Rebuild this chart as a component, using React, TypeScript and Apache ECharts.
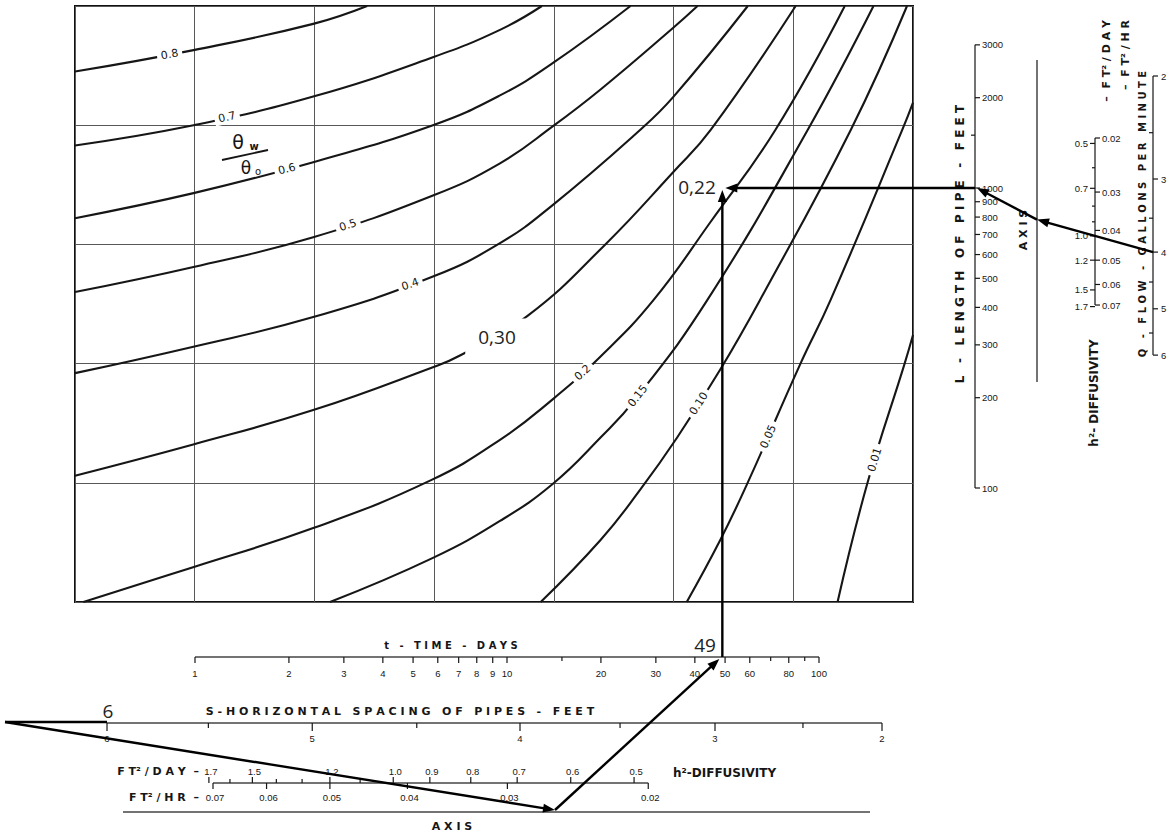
import { useEffect, useRef } from 'react';
import * as echarts from 'echarts';

// ---------- θw/θo contour lines, [x, y] in grid-cell units (x 0–7 across, y 0–5 upward) ----------
const C080 = [[0, 4.45], [0.99, 4.63], [1.99, 4.85], [2.44, 5.0]];
const C070 = [[0, 3.83], [0.99, 4.0], [1.99, 4.24], [2.99, 4.57], [3.55, 4.8], [3.9, 5.0]];
const C060 = [[0, 3.22], [0.99, 3.43], [1.99, 3.69], [2.99, 4.0], [3.55, 4.25], [3.99, 4.52], [4.64, 5.0]];
const C050 = [[0, 2.6], [0.99, 2.81], [1.99, 3.06], [2.99, 3.41], [3.55, 3.68], [3.99, 3.99], [4.39, 4.3], [5.0, 4.82], [5.2, 5.0]];
const C040 = [[0, 1.92], [0.98, 2.14], [1.99, 2.39], [2.99, 2.73], [3.55, 3.01], [3.99, 3.33], [4.72, 3.96], [5.0, 4.24], [5.62, 5.0]];
const C030 = [[0, 1.06], [0.98, 1.32], [1.99, 1.61], [2.99, 1.97], [3.22, 2.07], [3.78, 2.4], [4.43, 3.0], [5.0, 3.61], [5.31, 3.96], [6.02, 5.0]];
const C020 = [[0.07, 0], [0.98, 0.29], [1.99, 0.62], [2.97, 1.02], [3.55, 1.36], [3.99, 1.7], [4.39, 2.06], [4.83, 2.53], [5.31, 3.19], [5.85, 3.96], [6.43, 5.0]];
const C015 = [[2.13, 0], [2.99, 0.37], [3.55, 0.68], [3.99, 0.99], [4.39, 1.38], [4.68, 1.7], [5.28, 2.53], [6.12, 3.96], [6.67, 5.0]];
const C010 = [[3.89, 0], [4.39, 0.52], [4.72, 0.94], [5.03, 1.38], [5.39, 1.95], [5.72, 2.53], [6.48, 3.96], [6.95, 5.0]];
const C005 = [[5.11, 0], [5.39, 0.52], [5.61, 0.98], [6.06, 2.0], [6.31, 2.53], [6.91, 3.96], [7.0, 4.19]];
const C001 = [[6.37, 0], [6.62, 1.0], [6.93, 2.0], [7.0, 2.24]];

const CONTOUR_POINTS = [C080, C070, C060, C050, C040, C030, C020, C015, C010, C005, C001];
// inline labels: text and the x (grid units) where each one sits on its contour
const CONTOUR_TEXT = ['0.8', '0.7', '0.6', '0.5', '0.4', '', '0.2', '0.15', '0.10', '0.05', '0.01'];
const CONTOUR_LABEL_X = [0.79, 1.27, 1.77, 2.28, 2.8, 0, 4.24, 4.7, 5.21, 5.79, 6.68];

// ---------- nomograph scales ----------
const T_TICKS = [1, 2, 3, 4, 5, 6, 7, 8, 9, 10, 20, 30, 40, 50, 60, 80, 100];
const T_MINOR = [15, 70, 90];
const S_TICKS = [6, 5, 4, 3, 2];
const S_HALF = [5.5, 4.5, 3.5, 2.5];
const H_DAY_BOTTOM = [1.7, 1.5, 1.2, 1.0, 0.9, 0.8, 0.7, 0.6, 0.5];
const H_DAY_BOTTOM_MINOR = [1.6, 1.4, 1.3, 1.1];
const H_HR_BOTTOM = [0.07, 0.06, 0.05, 0.04, 0.03, 0.02];
const L_TICKS = [3000, 2000, 1000, 900, 800, 700, 600, 500, 400, 300, 200, 100];
const L_MINOR = [1500];
const H_DAY_RIGHT = [0.5, 0.7, 1.0, 1.2, 1.5, 1.7];
const H_DAY_RIGHT_MINOR = [0.6, 0.8, 0.9];
const H_HR_RIGHT = [0.02, 0.03, 0.04, 0.05, 0.06, 0.07];
const Q_TICKS = [2, 3, 4, 5, 6];
const Q_MINOR = [2.5, 3.5, 4.5, 5.5];

// worked example drawn on top of the chart
const EX_S = 6;
const EX_H2_DAY = 1.0;
const EX_T = 49;
const EX_L = 1000;
const EX_Q = 4;
const EX_RESULT = '0,22';
const EX_NOTE = '0,30';

// ---------- layout (page pixels) ----------
const T_Y = 657;
const S_Y = 723;
const HB_Y = 783;
const AXB_Y = 812;
const L_X = 975;
const AXR_X = 1037;
const HR_X = 1095;
const Q_X = 1153;

const tX = (t: number) => 195 + 312 * Math.log10(t);
const sX = (s: number) => 882 - 167 * (s - 2) - 14 * (s - 2) * (s - 3) + 2.542 * (s - 2) * (s - 3) * (s - 4);
const hbX = (hr: number) => 213 + 800 * Math.log10(0.07 / hr);
const lY = (l: number) => 488 - 300 * Math.log10(l / 100);
const hrY = (hr: number) => 138 + 307 * Math.log10(hr / 0.02);
const qY = (q: number) => 76 + 585 * Math.log10(q / 2);

const INK = '#161616';
const TICK_FONT = '9.5px "Liberation Sans", Arial, sans-serif';
const bold = (n: number) => `bold ${n}px "DejaVu Sans", sans-serif`;
const NOTE_FONT = '19px "Open Sans", sans-serif';
const spaced = (s: string) => s.split(' ').map((w) => w.split('').join(' ')).join('   ');

const interpY = (pts: number[][], x: number) => {
  for (let i = 1; i < pts.length; i++) {
    if (x <= pts[i][0]) {
      const [x0, y0] = pts[i - 1];
      const [x1, y1] = pts[i];
      return y0 + ((y1 - y0) * (x - x0)) / (x1 - x0);
    }
  }
  return pts[pts.length - 1][1];
};

function buildOverlay() {
  const P: any[] = [];
  const seg = (a: number[], b: number[], w = 1.2, c = INK) => P.push({ k: 'seg', a, b, w, c });
  const arrow = (a: number[], b: number[]) => P.push({ k: 'arrow', a, b });
  const txt = (p: number[], text: string, font: string, o: any = {}) => P.push({ k: 'txt', p, text, font, ...o });
  const up = Math.PI / 2;

  // t – time – days
  seg([tX(1), T_Y], [tX(100), T_Y], 1.5, '#444');
  T_TICKS.forEach((t) => {
    seg([tX(t), T_Y], [tX(t), T_Y + 6]);
    txt([tX(t), T_Y + 16], String(t), TICK_FONT);
  });
  T_MINOR.forEach((t) => seg([tX(t), T_Y], [tX(t), T_Y + 4]));
  txt([451, T_Y - 12], spaced('t - TIME - DAYS'), bold(10));

  // S – horizontal spacing of pipes
  seg([sX(6), S_Y], [sX(2), S_Y], 1.5, '#444');
  S_TICKS.forEach((s) => {
    seg([sX(s), S_Y], [sX(s), S_Y + 8]);
    txt([sX(s), S_Y + 15], String(s), TICK_FONT);
  });
  S_HALF.forEach((s) => seg([sX(s), S_Y], [sX(s), S_Y + 5]));
  txt([400, S_Y - 12], spaced('S-HORIZONTAL SPACING OF PIPES - FEET'), bold(11));

  // h² diffusivity, bottom
  const hdb = (d: number) => hbX(d / 24);
  seg([hbX(0.07), HB_Y], [hbX(0.02), HB_Y], 1.5, '#444');
  H_DAY_BOTTOM.forEach((d) => {
    seg([hdb(d), HB_Y], [hdb(d), HB_Y - 6]);
    txt([hdb(d) + 2, HB_Y - 12], d.toFixed(1), TICK_FONT);
  });
  H_DAY_BOTTOM_MINOR.forEach((d) => seg([hdb(d), HB_Y], [hdb(d), HB_Y - 4]));
  H_HR_BOTTOM.forEach((h) => {
    seg([hbX(h), HB_Y], [hbX(h), HB_Y + 6]);
    txt([hbX(h) + 2, HB_Y + 14], h.toFixed(2), TICK_FONT);
  });
  txt([199, HB_Y - 12], 'F T² / D A Y  –', bold(11), { align: 'right' });
  txt([199, HB_Y + 14], 'F T² / H R  –', bold(11), { align: 'right' });
  txt([673, HB_Y - 10], 'h²-DIFFUSIVITY', bold(12), { align: 'left' });

  // bottom axis
  seg([123, AXB_Y], [870, AXB_Y], 1.5, '#444');
  txt([452, AXB_Y + 14], spaced('AXIS'), bold(11));

  // L – length of pipe
  seg([L_X, lY(3000)], [L_X, lY(100)], 1.5, '#444');
  L_TICKS.forEach((l) => {
    seg([L_X, lY(l)], [L_X + 5, lY(l)]);
    txt([L_X + 7, lY(l)], String(l), TICK_FONT, { align: 'left' });
  });
  L_MINOR.forEach((l) => seg([L_X - 4, lY(l)], [L_X, lY(l)]));
  txt([960, 244], spaced('L - LENGTH OF PIPE - FEET'), bold(12), { rot: up });

  // right axis
  seg([AXR_X, 60], [AXR_X, 382], 1.5, '#444');
  txt([1023, 230], spaced('AXIS'), bold(11), { rot: up });

  // h² diffusivity, right
  seg([HR_X, hrY(0.02)], [HR_X, hrY(0.07)], 1.5, '#444');
  H_DAY_RIGHT.forEach((d) => {
    const y = hrY(d / 24);
    seg([HR_X - 5, y], [HR_X, y]);
    txt([HR_X - 7, y], d.toFixed(1), TICK_FONT, { align: 'right' });
  });
  H_DAY_RIGHT_MINOR.forEach((d) => seg([HR_X - 3, hrY(d / 24)], [HR_X, hrY(d / 24)]));
  H_HR_RIGHT.forEach((h) => {
    seg([HR_X, hrY(h)], [HR_X + 5, hrY(h)]);
    txt([HR_X + 7, hrY(h)], h.toFixed(2), TICK_FONT, { align: 'left' });
  });
  txt([1106, 20], '–  F T² / D A Y', bold(11), { rot: up, align: 'right' });
  txt([1125, 20], '–  F T² / H R', bold(11), { rot: up, align: 'right' });
  txt([1094, 393], 'h²- DIFFUSIVITY', bold(12), { rot: up });

  // Q – flow
  seg([Q_X, qY(2)], [Q_X, qY(6)], 1.5, '#444');
  Q_TICKS.forEach((q) => {
    seg([Q_X, qY(q)], [Q_X + 5, qY(q)]);
    txt([Q_X + 8, qY(q)], String(q), TICK_FONT, { align: 'left' });
  });
  Q_MINOR.forEach((q) => seg([Q_X - 4, qY(q)], [Q_X, qY(q)]));
  txt([1142, 214], spaced('Q - FLOW - GALLONS PER MINUTE'), bold(10), { rot: up });

  // θw / θo symbol
  txt([238, 142], 'θ', '19px "DejaVu Sans", sans-serif');
  txt([254, 146], 'w', 'bold 10px "DejaVu Sans", sans-serif');
  seg([222, 160], [268, 150], 1.8);
  txt([246, 168], 'θ', '17px "DejaVu Sans", sans-serif');
  txt([258, 171], 'o', '10px "DejaVu Sans", sans-serif');

  // worked example: S → h² → axis → t, then t ↑ meets L ← axis ← Q
  const start = [5, S_Y - 1];
  const hitB = [555, AXB_Y - 2];
  const tPt = [tX(EX_T), T_Y];
  const lPt = [L_X, lY(EX_L)];
  const qPt = [Q_X, qY(EX_Q)];
  const hR = [HR_X, hrY(EX_H2_DAY / 24)];
  const k = (qPt[1] - hR[1]) / (qPt[0] - hR[0]);
  const hitR = [AXR_X, hR[1] - k * (hR[0] - AXR_X)];
  seg(start, [sX(EX_S), S_Y - 1], 2.4, '#000');
  arrow(start, hitB);
  arrow(hitB, [tPt[0] - 3, T_Y + 2]);
  arrow(tPt, [tPt[0], lPt[1] + 2]);
  arrow(lPt, [tPt[0] + 3, lPt[1]]);
  arrow(qPt, hitR);
  arrow(hitR, [lPt[0] + 2, lPt[1]]);

  txt([697, lPt[1] - 1], EX_RESULT, NOTE_FONT, { fill: '#222' });
  txt([497, 337], EX_NOTE, NOTE_FONT, { fill: '#222', bg: '#fff', pad: [9, 13] });
  txt([705, T_Y - 12], String(EX_T), NOTE_FONT, { fill: '#222' });
  txt([sX(EX_S) + 1, S_Y - 12], String(EX_S), NOTE_FONT, { fill: '#222' });
  return P;
}

function drawPrim(it: any, api: any) {
  if (it.k === 'seg') {
    const p = api.coord(it.a);
    const q = api.coord(it.b);
    return { type: 'line', shape: { x1: p[0], y1: p[1], x2: q[0], y2: q[1] }, style: { stroke: it.c, lineWidth: it.w } };
  }
  if (it.k === 'arrow') {
    const p = api.coord(it.a);
    const q = api.coord(it.b);
    const dx = q[0] - p[0];
    const dy = q[1] - p[1];
    const len = Math.hypot(dx, dy) || 1;
    const ux = dx / len;
    const uy = dy / len;
    const L = 12;
    const W = 4.5;
    const bx = q[0] - ux * L;
    const by = q[1] - uy * L;
    return {
      type: 'group',
      children: [
        { type: 'line', shape: { x1: p[0], y1: p[1], x2: bx + ux * 3, y2: by + uy * 3 }, style: { stroke: '#000', lineWidth: 2.4 } },
        { type: 'polygon', shape: { points: [[q[0], q[1]], [bx - uy * W, by + ux * W], [bx + uy * W, by - ux * W]] }, style: { fill: '#000' } },
      ],
    };
  }
  const p = api.coord(it.p);
  const align = it.align || 'center';
  return {
    type: 'text',
    x: p[0],
    y: p[1],
    rotation: it.rot || 0,
    style: {
      text: it.text,
      font: it.font,
      fill: it.fill || INK,
      align,
      textAlign: align,
      verticalAlign: 'middle',
      textVerticalAlign: 'middle',
      backgroundColor: it.bg,
      padding: it.pad,
    },
  };
}

function buildOption() {
  const curveSeries = CONTOUR_POINTS.map((pts) => ({
    type: 'line',
    xAxisIndex: 0,
    yAxisIndex: 0,
    data: pts,
    smooth: 0.45,
    symbol: 'none',
    showSymbol: false,
    silent: true,
    clip: true,
    z: 3,
    lineStyle: { color: INK, width: 2.1 },
  }));

  const labels = CONTOUR_TEXT.map((text, i) => {
    const pts = CONTOUR_POINTS[i];
    const x = CONTOUR_LABEL_X[i];
    return {
      text,
      at: [x, interpY(pts, x)],
      before: [x - 0.06, interpY(pts, x - 0.06)],
      after: [x + 0.06, interpY(pts, x + 0.06)],
    };
  }).filter((l) => l.text);

  const labelSeries = {
    type: 'custom',
    xAxisIndex: 0,
    yAxisIndex: 0,
    silent: true,
    z: 5,
    data: labels.map((l) => l.at),
    renderItem: (params: any, api: any) => {
      const l = labels[params.dataIndex];
      const p = api.coord(l.at);
      const a = api.coord(l.before);
      const b = api.coord(l.after);
      const rot = Math.atan2(-(b[1] - a[1]), b[0] - a[0]);
      return {
        type: 'text',
        x: p[0],
        y: p[1],
        rotation: rot,
        style: {
          text: l.text,
          font: '11px "DejaVu Sans", sans-serif',
          fill: INK,
          align: 'center',
          textAlign: 'center',
          verticalAlign: 'middle',
          textVerticalAlign: 'middle',
          backgroundColor: '#fff',
          padding: [1, 4],
        },
      };
    },
  };

  const prims = buildOverlay();
  const overlaySeries = {
    type: 'custom',
    xAxisIndex: 1,
    yAxisIndex: 1,
    silent: true,
    z: 6,
    data: prims.map((it) => (it.k === 'txt' ? it.p : it.a)),
    renderItem: (params: any, api: any) => drawPrim(prims[params.dataIndex], api),
  };

  const hidden = {
    axisLine: { show: false },
    axisTick: { show: false },
    axisLabel: { show: false },
    splitLine: { show: true, lineStyle: { color: '#585858', width: 1 } },
  };

  return {
    animation: false,
    backgroundColor: '#fff',
    grid: [
      { left: 75, top: 6, width: 838, height: 596, show: true, borderColor: '#111', borderWidth: 2, backgroundColor: 'transparent', outerBoundsMode: 'none' },
      { left: 0, top: 0, width: 1174, height: 836, show: false, outerBoundsMode: 'none' },
    ],
    xAxis: [
      { gridIndex: 0, type: 'value', min: 0, max: 7, interval: 1, ...hidden },
      { gridIndex: 1, type: 'value', min: 0, max: 1174, show: false },
    ],
    yAxis: [
      { gridIndex: 0, type: 'value', min: 0, max: 5, interval: 1, ...hidden },
      { gridIndex: 1, type: 'value', min: 0, max: 836, inverse: true, show: false },
    ],
    series: [...curveSeries, labelSeries, overlaySeries],
  };
}

export default function App() {
  const ref = useRef<HTMLDivElement>(null);
  useEffect(() => {
    if (!ref.current) return;
    const chart = echarts.init(ref.current, null, { renderer: 'svg' });
    chart.setOption(buildOption() as any);
    return () => chart.dispose();
  }, []);
  return (
    <div
      ref={ref}
      style={{ position: 'fixed', left: 0, top: 0, width: 1174, height: 836, background: '#fff' }}
    />
  );
}
